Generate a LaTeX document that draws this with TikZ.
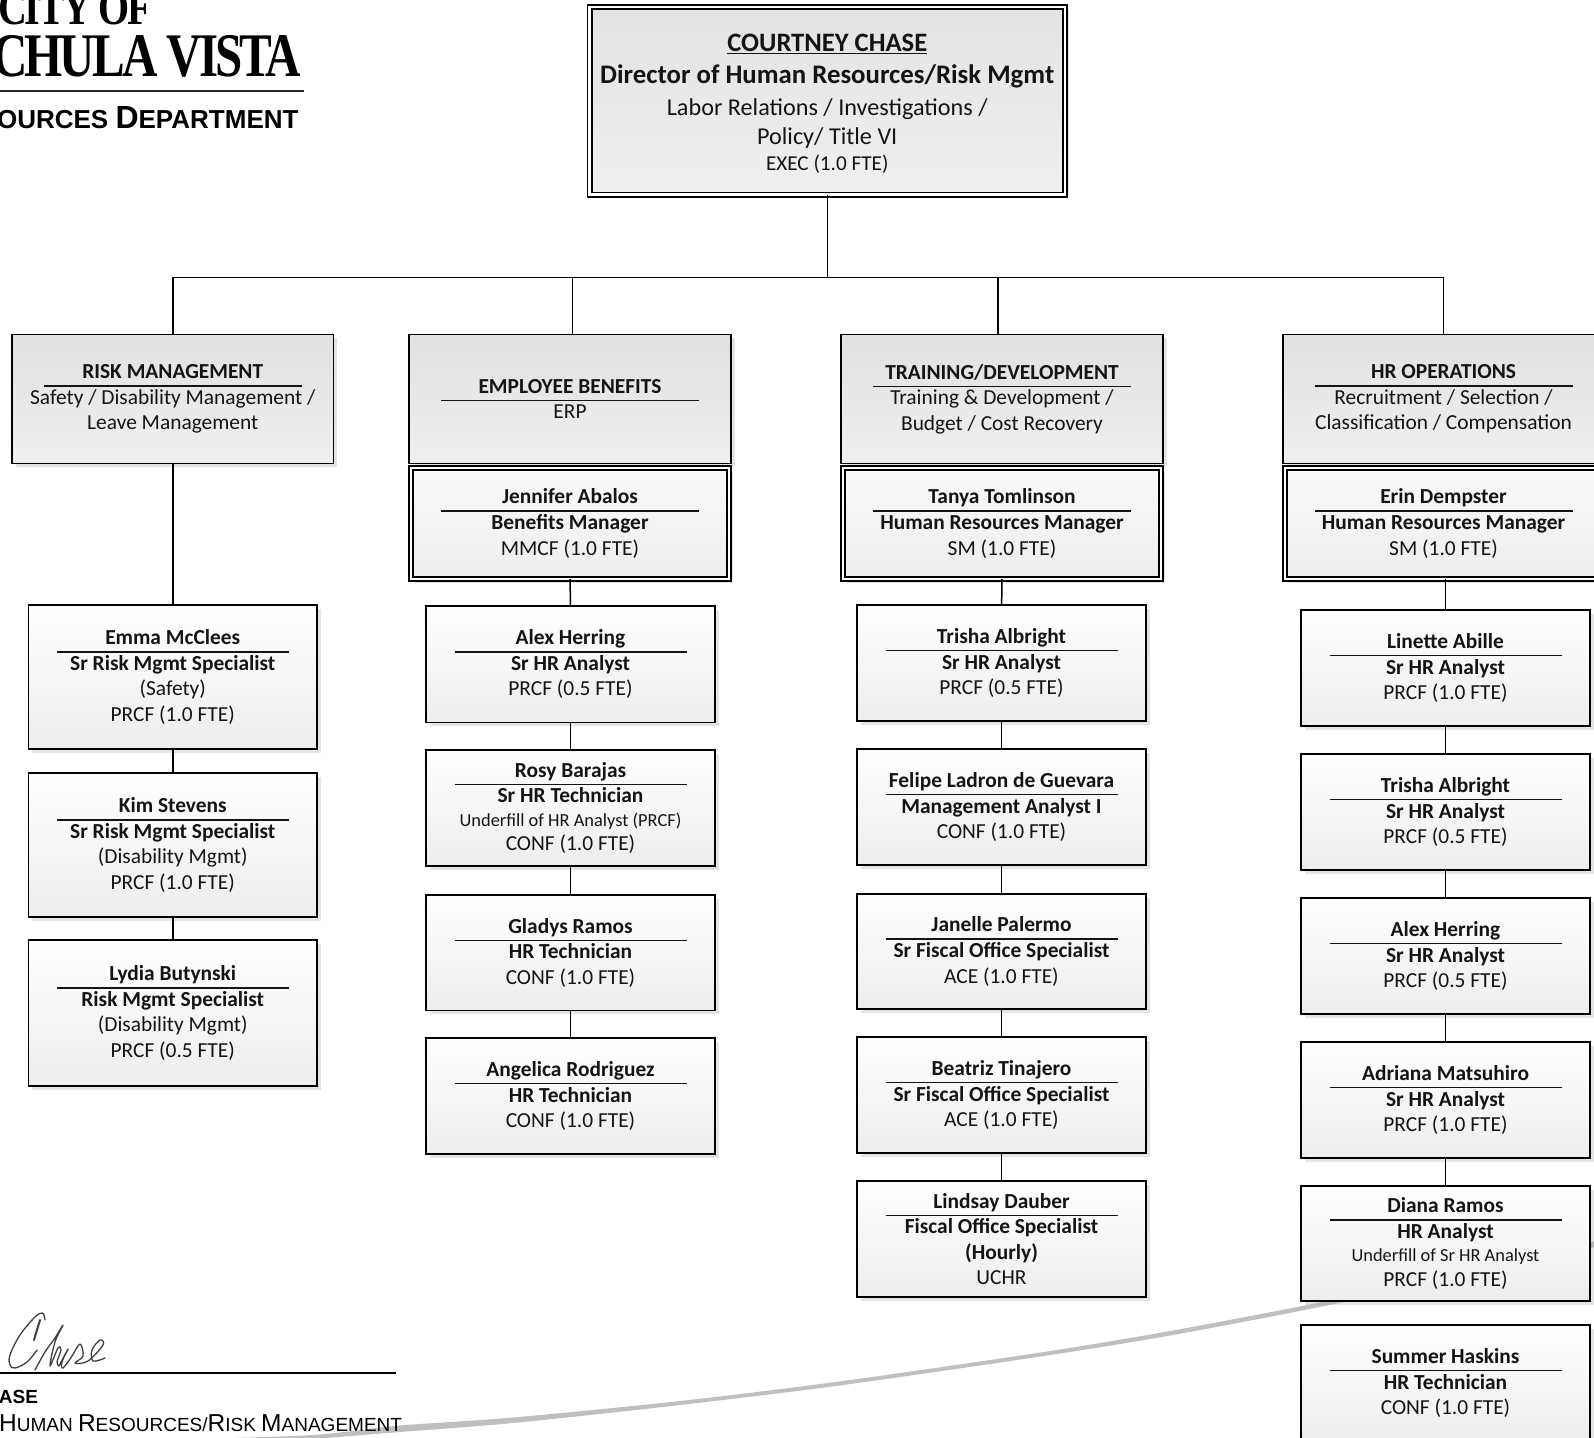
\documentclass[tikz,border=0pt]{standalone}
\usepackage{fontspec}
\usepackage{graphicx}
\setmainfont{Carlito}
\newfontfamily\arl{Liberation Sans}
\newfontfamily\tms[LetterSpace=-6]{Liberation Serif}
\usetikzlibrary{shadows}
\definecolor{swoosh}{HTML}{BFBFBF}
\tikzset{
  base/.style={draw=black,line width=1.6pt,align=center,inner sep=0pt,outer sep=0pt,
    font=\fontsize{21.4}{25.6}\selectfont,text=black!92,
    drop shadow={shadow xshift=3.5pt,shadow yshift=-3.5pt,opacity=.3,fill=black!35}},
  staff/.style={base,top color=white,bottom color=black!7},
  dept/.style={base,top color=black!12,bottom color=black!6},
  mgr/.style={base,top color=black!2,bottom color=black!7,double=white,double distance=2.6pt,line width=1.6pt},
  topbox/.style={base,top color=black!11,bottom color=black!6,double=white,double distance=2.6pt,line width=1.7pt},
  link/.style={draw=black,line width=1.5pt},
  logotxt/.style={inner sep=0pt,outer sep=0pt,text=black,anchor=base east},
  sig/.style={line width=1.3pt,black!75,line cap=round,line join=round},
}
\newcommand{\bx}[7]{\node[#1,minimum width={(#5-#3)*1pt},minimum height={(#6-#4)*1pt}] (#2) at ({(#3+#5)/2},{(#4+#6)/2}) {#7};}
\newcommand{\nm}[2][232]{\makebox[#1pt]{\rlap{\smash{\raisebox{-8pt}{\rule{#1pt}{1.5pt}}}}\hfill\textbf{#2}\hfill}}
\newcommand{\sml}[1]{{\fontsize{18.4}{25.3}\selectfont #1}}
\newcommand{\fs}[1]{\fontsize{#1}{25.6}\selectfont}
\begin{document}
\begin{tikzpicture}[x=1pt,y=-1pt]
\useasboundingbox (0,0) rectangle (1594,1437);
\clip (0,0) rectangle (1594,1437);
% swoosh
\fill[swoosh] plot[smooth] coordinates {(195,1439) (313,1435) (400,1425.5) (513,1417.5) (680,1401) (843,1381) (1047,1351.5) (1170,1331) (1317,1303) (1450,1274) (1600,1240)}
  -- plot[smooth] coordinates {(1600,1246) (1450,1279) (1317,1307.5) (1170,1335.5) (1047,1355.5) (843,1385) (680,1405) (513,1423) (400,1432) (313,1439)} -- cycle;
% top
\bx{topbox}{top}{589.5}{7}{1065}{194.5}{\fs{26.6}\rule{0pt}{24pt}\textbf{\underline{COURTNEY CHASE}}\\[6pt]\fs{26.8}\textbf{Director of Human Resources/Risk Mgmt}\\[6.5pt]\fs{24.2}Labor Relations / Investigations /\\[3pt]\fs{24.2}Policy/ Title VI\\[1pt]\fs{21.2}EXEC (1.0 FTE)}
% departments
\bx{dept}{risk}{12}{334.5}{333.5}{463.5}{\nm[258]{RISK MANAGEMENT}\\Safety / Disability Management /\\Leave Management}
\bx{dept}{emp}{409}{334.5}{731}{463.5}{\nm[258]{EMPLOYEE BENEFITS}\\ERP}
\bx{dept}{train}{841}{334.5}{1163}{463.5}{\nm[258]{TRAINING/DEVELOPMENT}\\Training \& Development /\\Budget / Cost Recovery}
\bx{dept}{hrops}{1283}{334.5}{1604}{463.5}{\nm[258]{HR OPERATIONS}\\Recruitment / Selection /\\Classification / Compensation}
% managers
\bx{mgr}{jen}{411}{468}{729}{579}{\nm[258]{Jennifer Abalos}\\\textbf{Benefits Manager}\\MMCF (1.0 FTE)}
\bx{mgr}{tanya}{843}{468}{1161}{579}{\nm[258]{Tanya Tomlinson}\\\textbf{Human Resources Manager}\\SM (1.0 FTE)}
\bx{mgr}{erin}{1285}{468}{1602}{579}{\nm[258]{Erin Dempster}\\\textbf{Human Resources Manager}\\SM (1.0 FTE)}
% column 1
\bx{staff}{emma}{28.5}{605}{317}{749}{\nm{Emma McClees}\\\textbf{Sr Risk Mgmt Specialist}\\(Safety)\\PRCF (1.0 FTE)}
\bx{staff}{kim}{28.5}{773}{317}{917}{\nm{Kim Stevens}\\\textbf{Sr Risk Mgmt Specialist}\\(Disability Mgmt)\\PRCF (1.0 FTE)}
\bx{staff}{lydia}{28.5}{940}{317}{1086}{\nm{Lydia Butynski}\\\textbf{Risk Mgmt Specialist}\\(Disability Mgmt)\\PRCF (0.5 FTE)}
% column 2
\bx{staff}{alexa}{426}{606}{715}{722.5}{\nm{Alex Herring}\\\textbf{Sr HR Analyst}\\PRCF (0.5 FTE)}
\bx{staff}{rosy}{426}{750}{715}{866}{\nm{Rosy Barajas}\\\textbf{Sr HR Technician}\\[-2pt]\sml{Underfill of HR Analyst (PRCF)}\\[-1pt]CONF (1.0 FTE)}
\bx{staff}{gladys}{426}{895}{715}{1010.5}{\nm{Gladys Ramos}\\\textbf{HR Technician}\\CONF (1.0 FTE)}
\bx{staff}{angelica}{426}{1038}{715}{1154}{\nm{Angelica Rodriguez}\\\textbf{HR Technician}\\CONF (1.0 FTE)}
% column 3
\bx{staff}{trishaa}{857}{605}{1146}{721}{\nm{Trisha Albright}\\\textbf{Sr HR Analyst}\\PRCF (0.5 FTE)}
\bx{staff}{felipe}{857}{749}{1146}{865}{\nm{Felipe Ladron de Guevara}\\\textbf{Management Analyst I}\\CONF (1.0 FTE)}
\bx{staff}{janelle}{857}{894}{1146}{1009}{\nm{Janelle Palermo}\\\textbf{Sr Fiscal Office Specialist}\\ACE (1.0 FTE)}
\bx{staff}{beatriz}{857}{1037}{1146}{1153}{\nm{Beatriz Tinajero}\\\textbf{Sr Fiscal Office Specialist}\\ACE (1.0 FTE)}
\bx{staff}{lindsay}{857}{1181}{1146}{1297}{\nm{Lindsay Dauber}\\\textbf{Fiscal Office Specialist}\\\textbf{(Hourly)}\\UCHR}
% column 4
\bx{staff}{linette}{1301}{610}{1590}{726}{\nm{Linette Abille}\\\textbf{Sr HR Analyst}\\PRCF (1.0 FTE)}
\bx{staff}{trishab}{1301}{754}{1590}{870}{\nm{Trisha Albright}\\\textbf{Sr HR Analyst}\\PRCF (0.5 FTE)}
\bx{staff}{alexb}{1301}{898}{1590}{1014}{\nm{Alex Herring}\\\textbf{Sr HR Analyst}\\PRCF (0.5 FTE)}
\bx{staff}{adriana}{1301}{1042}{1590}{1158}{\nm{Adriana Matsuhiro}\\\textbf{Sr HR Analyst}\\PRCF (1.0 FTE)}
\bx{staff}{diana}{1301}{1186}{1590}{1301}{\nm{Diana Ramos}\\\textbf{HR Analyst}\\[-2pt]\sml{Underfill of Sr HR Analyst}\\[-1pt]PRCF (1.0 FTE)}
\bx{staff}{summer}{1301}{1325}{1590}{1441}{\nm{Summer Haskins}\\\textbf{HR Technician}\\CONF (1.0 FTE)}
% connectors
\coordinate (bus) at (827.25,277.5);
\draw[link] (top.south) -- (bus);
\draw[link] (bus) -| (risk.north);
\draw[link] (bus) -| ([xshift=2.5pt]emp.north);
\draw[link] (bus) -| ([xshift=-4pt]train.north);
\draw[link] (bus) -| (hrops.north);
\draw[link] (risk.south) -- (emma.north);
\draw[link] (emma) -- (kim);
\draw[link] (kim) -- (lydia);
\draw[link] (jen) -- (alexa);
\draw[link] (alexa) -- (rosy);
\draw[link] (rosy) -- (gladys);
\draw[link] (gladys) -- (angelica);
\draw[link] (tanya) -- (trishaa);
\draw[link] (trishaa) -- (felipe);
\draw[link] (felipe) -- (janelle);
\draw[link] (janelle) -- (beatriz);
\draw[link] (beatriz) -- (lindsay);
\draw[link] (linette.north |- erin.south) -- (linette.north);
\draw[link] (linette) -- (trishab);
\draw[link] (trishab) -- (alexb);
\draw[link] (alexb) -- (adriana);
\draw[link] (adriana) -- (diana);
% logo
\node[logotxt,font=\tms\bfseries\fontsize{50}{50}\selectfont] (city) at (152,25) {\scalebox{.8}[1]{CITY OF}};
\node[logotxt,font=\tms\bfseries\fontsize{62}{62}\selectfont] (chula) at (301,76) {\scalebox{.79}[1]{CHULA VISTA}};
\coordinate (logoa) at (0,91);
\coordinate (logob) at (304,91);
\draw[line width=1.5pt,black!85] (logoa) -- (logob);
\node[logotxt,font=\arl\bfseries\fontsize{26}{26}\selectfont] (deptname) at (298.5,128.5) {OURCES {\fontsize{32}{32}\selectfont D}EPARTMENT};
% signature
\draw[sig] plot[smooth,tension=.6] coordinates {(45,1320) (42.7,1313) (35,1317) (20,1335) (10,1355) (10,1365) (15,1368) (27,1362) (37,1350)};
\draw[sig,line width=2pt] (40,1320) -- (34,1340);
\draw[sig] plot[smooth,tension=.6] coordinates {(35,1370) (45,1352) (55,1338) (63,1325) (55,1342) (50,1366) (58,1348) (61,1350) (57,1362) (59,1366)};
\draw[sig] plot[smooth,tension=.6] coordinates {(59,1366) (68,1349) (62,1362) (63,1368) (72,1356) (80,1344) (83,1356) (75,1363) (88,1361) (103,1345) (100,1340) (92,1350) (93,1361) (105,1358)};
\coordinate (siga) at (0,1372.7);
\coordinate (sigb) at (396,1372.7);
\draw[line width=2pt,black] (siga) -- (sigb);
\node[logotxt,font=\arl\bfseries\fontsize{19}{19}\selectfont] (sname) at (38,1403) {ASE};
\node[logotxt,font=\arl\fontsize{19}{19}\selectfont] (stitle) at (402,1431) {{\fontsize{24.5}{24.5}\selectfont H}UMAN {\fontsize{24.5}{24.5}\selectfont R}ESOURCES/{\fontsize{24.5}{24.5}\selectfont R}ISK {\fontsize{24.5}{24.5}\selectfont M}ANAGEMENT};
\end{tikzpicture}
\end{document}
